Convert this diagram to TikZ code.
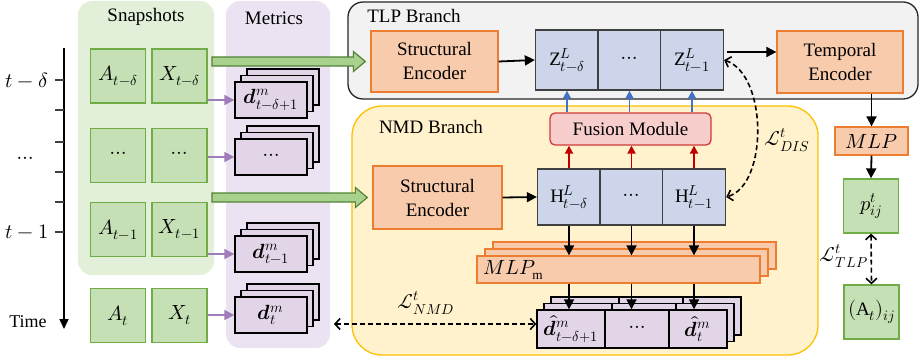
\documentclass[tikz,border=0pt]{standalone}
\usepackage{fontspec}
\usepackage{unicode-math}
\setmainfont{Liberation Serif}
\setmathfont{latinmodern-math.otf}[Scale=1.08]
\usetikzlibrary{arrows.meta,positioning,calc}

\definecolor{snappanel}{HTML}{E2F0D9}
\definecolor{metpanel}{HTML}{EBE3F1}
\definecolor{snapfill}{HTML}{C5E0B4}
\definecolor{snapline}{HTML}{70AD47}
\definecolor{encfill}{HTML}{F8CBAD}
\definecolor{encline}{HTML}{ED7D31}
\definecolor{embfill}{HTML}{CDD5EA}
\definecolor{tlpfill}{HTML}{F2F2F2}
\definecolor{nmdfill}{HTML}{FFF2CC}
\definecolor{nmdline}{HTML}{FFC000}
\definecolor{fusfill}{HTML}{F8CECC}
\definecolor{fusline}{HTML}{D03A3A}
\definecolor{metfill}{HTML}{E1D5E7}
\definecolor{purarrow}{HTML}{A07DB8}
\definecolor{bluearrow}{HTML}{4472C4}
\definecolor{redarrow}{HTML}{C00000}
\definecolor{fatfill}{HTML}{A9D18E}
\definecolor{fatline}{HTML}{548235}

\begin{document}
\begin{tikzpicture}[
    x=1pt, y=-1pt,
    font=\fontsize{19}{22}\selectfont,
    snap/.style={draw=snapline, fill=snapfill, line width=1.3pt,
        minimum width=55pt, minimum height=54pt, inner sep=0pt},
    enc/.style={draw=encline, fill=encfill, line width=1.3pt,
        align=center, inner sep=0pt, font=\fontsize{19}{24}\selectfont},
    emb/.style={draw=black!75, fill=embfill, line width=1.3pt,
        minimum width=63pt, minimum height=60pt, inner sep=0pt},
    metric/.style={draw=black, fill=metfill, line width=1.4pt,
        minimum width=72pt, minimum height=36pt, inner sep=0pt},
    arr/.style={line width=1.8pt, -{Triangle[length=10pt,width=10pt]}},
    purarr/.style={color=purarrow, line width=1.8pt, -{Triangle[length=10pt,width=10pt]}},
    fusarr/.style={line width=1.8pt, -{Triangle[length=8pt,width=8pt]}},
    loss/.style={line width=1.6pt, dash pattern=on 5pt off 3pt,
        {Straight Barb[length=5pt,width=11pt]}-{Straight Barb[length=5pt,width=11pt]}},
    fat/.style={draw=fatline, fill=fatfill, line width=1.2pt}
]
    \useasboundingbox (0,0) rectangle (920,361);

    % panels
    \fill[snappanel, rounded corners=14pt] (78,1) rectangle (214,275);
    \fill[metpanel, rounded corners=14pt] (226,1) rectangle (330,348);
    \draw[draw=black!85, fill=tlpfill, line width=1.3pt, rounded corners=15pt] (348,2) rectangle (918,99);
    \draw[draw=nmdline, fill=nmdfill, line width=1.3pt, rounded corners=30pt] (352,106) rectangle (818,355);

    \node (snaplab) at (146,17) {Snapshots};
    \node (metlab) at (274,18) {Metrics};
    \node (tlplab) at (414,16) {TLP Branch};
    \node (nmdlab) at (431,127) {NMD Branch};

    % time axis
    \coordinate (ttop) at (64,48);
    \coordinate (tbot) at (64,329);
    \draw[line width=1.4pt, -{Triangle[length=10pt,width=9pt]}] (ttop) -- (tbot);
    \foreach \yy in {80,110,142,172,202,232}
        \draw[line width=1.2pt, black!75] (55,\yy) -- (64,\yy);
    \node (tdelta) at (27,80) {$t-\delta$};
    \node (tdots) at (25,160) {$\cdots$};
    \node (tone) at (27,232) {$t-1$};
    \node[font=\fontsize{18}{20}\selectfont] (tlab) at (28,322) {Time};

    % snapshots
    \foreach \n/\yy/\atxt/\xtxt in {1/76/{$A_{t-\delta}$}/{$X_{t-\delta}$},
            2/155.5/{$\cdots$}/{$\cdots$}, 3/229.5/{$A_{t-1}$}/{$X_{t-1}$},
            4/315.5/{$A_t$}/{$X_t$}} {
        \node[snap] (a\n) at (118,\yy) {\atxt};
        \node[snap] (x\n) at (179.5,\yy) {\xtxt};
    }

    % metrics
    \foreach \n/\yy/\dtxt in {1/100/{$\symbfit{d}^m_{t-\delta+1}$}, 2/157/{$\cdots$},
            3/254/{$\symbfit{d}^m_{t-1}$}, 4/315/{$\symbfit{d}^m_t$}} {
        \node[metric] at (283,{\yy-13}) {};
        \node[metric] at (277,{\yy-6.5}) {};
        \node[metric] (m\n) at (271,\yy) {\dtxt};
        \draw[purarr] (x\n.east |- m\n.west) -- (m\n.west);
    }

    % encoders
    \node[enc, minimum width=127pt, minimum height=61pt] (se1) at (434.5,61.5) {Structural\\Encoder};
    \node[enc, minimum width=129pt, minimum height=63pt] (se2) at (437.5,197.5) {Structural\\Encoder};
    \node[enc, minimum width=126pt, minimum height=62pt] (te) at (840,62) {Temporal\\Encoder};

    % input arrows
    \coordinate (g1) at (212,61.5);
    \coordinate (g2) at (212,197.5);
    \draw[fat] ($(g1)+(0,-4.5)$) -- ($(se1.west)+(-17,-4.5)$) -- ($(se1.west)+(-17,-10)$)
        -- ($(se1.west)+(-5,0)$) -- ($(se1.west)+(-17,10)$) -- ($(se1.west)+(-17,4.5)$)
        -- ($(g1)+(0,4.5)$) -- cycle;
    \draw[fat] ($(g2)+(0,-4.5)$) -- ($(se2.west)+(-17,-4.5)$) -- ($(se2.west)+(-17,-10)$)
        -- ($(se2.west)+(-5,0)$) -- ($(se2.west)+(-17,10)$) -- ($(se2.west)+(-17,4.5)$)
        -- ($(g2)+(0,4.5)$) -- cycle;

    % embeddings
    \foreach \n/\cx/\ztxt in {1/567/{$\mathrm{Z}^L_{t-\delta}$}, 2/629.5/{$\cdots$}, 3/692/{$\mathrm{Z}^L_{t-1}$}}
        \node[emb] (z\n) at (\cx,60) {\ztxt};
    \foreach \n/\cx/\htxt in {1/569/{$\mathrm{H}^L_{t-\delta}$}, 2/631.5/{$\cdots$}, 3/694/{$\mathrm{H}^L_{t-1}$}}
        \node[emb, minimum height=56pt] (h\n) at (\cx,197) {\htxt};

    \node[draw=fusline, fill=fusfill, line width=1.3pt, rounded corners=5pt,
        minimum width=161pt, minimum height=32pt] (fm) at (630.5,129) {Fusion Module};

    \draw[arr] (se1.east) -- (z1.west);
    \draw[arr] (se2.east) -- (h1.west);
    \draw[arr, shorten <=3pt] ([yshift=8pt]z3.east) -- ([yshift=8pt]z3.east -| te.west);
    \foreach \n in {1,2,3} {
        \draw[fusarr, color=bluearrow] (z\n.south |- fm.north) -- (z\n.south);
        \draw[fusarr, color=redarrow] (h\n.north) -- (h\n.north |- fm.south);
    }

    % MLP_m
    \foreach \s in {2,1}
        \node[enc, minimum width=283pt, minimum height=27pt] at ({618.5+8*\s},{269.5-7*\s}) {};
    \node[enc, minimum width=283pt, minimum height=27pt] (mlpm) at (618.5,269.5) {};
    \node[anchor=west, inner sep=0pt] (mlpmlab) at (483,270) {$MLP_{\mathrm{m}}$};

    % reconstructed metrics
    \foreach \s in {2,1}
        \foreach \cx/\w in {571/68,637/64,698/58}
            \node[metric, minimum width=\w pt, minimum height=38pt] at ({\cx+7*\s},{329-6.5*\s}) {};
    \node[metric, minimum width=68pt, minimum height=38pt] (dh1) at (571,329) {$\widehat{\symbfit{d}}^m_{t-\delta+1}$};
    \node[metric, minimum width=64pt, minimum height=38pt] (dh2) at (637,329) {$\cdots$};
    \node[metric, minimum width=58pt, minimum height=38pt] (dh3) at (698,329) {$\widehat{\symbfit{d}}^m_t$};

    \foreach \n in {1,2,3} {
        \draw[arr] (h\n.south) -- (h\n.south |- mlpm.north);
        \draw[arr] (h\n.south |- mlpm.south) -- (h\n.south |- dh1.north);
    }

    % losses
    \coordinate (nmdl) at (334,324);
    \draw[loss] (nmdl) -- (nmdl -| dh1.west);
    \node (lnmd) at (426,303) {$\mathcal{L}^t_{NMD}$};
    \draw[loss] (z3.east) .. controls (768,75) and (768,185) .. (h3.east);
    \node (ldis) at (787,140) {$\mathcal{L}^t_{DIS}$};

    % prediction
    \node[enc, minimum width=73pt, minimum height=28pt] (mlp) at (871.5,141) {$MLP$};
    \node[snap] (pij) at (871,206) {$p^t_{ij}$};
    \node[snap] (aij) at (871.5,312) {$(\mathrm{A}_t)_{ij}$};
    \draw[arr] (mlp.north |- te.south) -- (mlp.north);
    \draw[arr] (mlp.south) -- (pij.north);
    \draw[loss] (pij.south) -- (aij.north);
    \node[anchor=east, inner sep=1pt] (ltlp) at (869,256) {$\mathcal{L}^t_{TLP}$};
\end{tikzpicture}
\end{document}
